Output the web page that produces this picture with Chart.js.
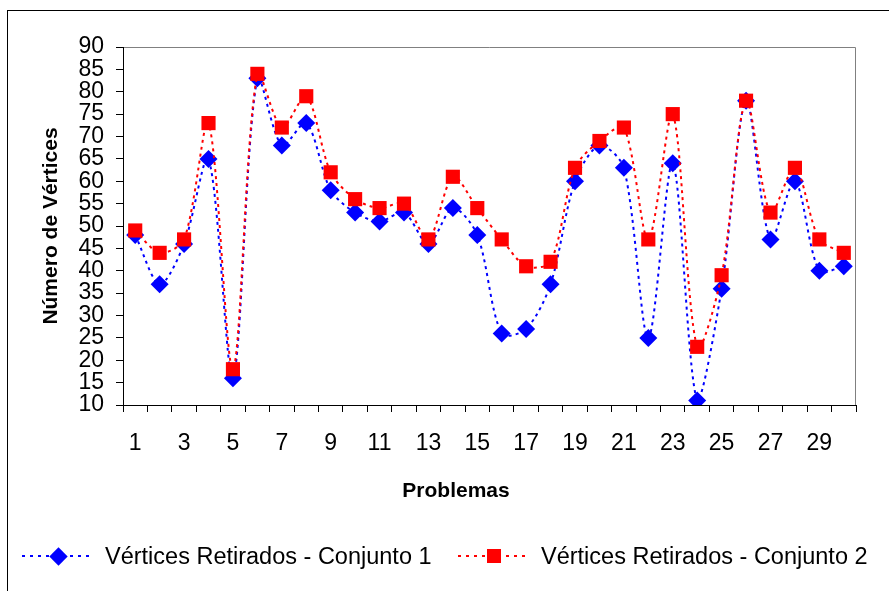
<!DOCTYPE html>
<html>
<head>
<meta charset="utf-8">
<script src="https://cdn.jsdelivr.net/npm/chart.js@4"></script>
<style>
  html, body { margin: 0; padding: 0; background: #fff; overflow: hidden; }
  #wrap { position: relative; width: 889px; height: 591px; }
  #frame {
    position: absolute; left: 7px; top: 10px; width: 900px; height: 600px;
    border-left: 1.5px solid #000; border-top: 1.5px solid #000;
  }
  canvas { position: absolute; left: 0; top: 0; }
  #xtitle {
    position: absolute; left: 356px; width: 200px; top: 478px; text-align: center;
    font: bold 21px "Liberation Sans", Arial, sans-serif; color: #000;
  }
  .legend-item {
    position: absolute; top: 542px; height: 28px; display: flex; align-items: center;
    font: 23.5px "Liberation Sans", Arial, sans-serif; color: #000; white-space: nowrap;
  }
  .legend-symbol { position: relative; width: 72px; height: 28px; margin-right: 11px; }
  .legend-line { position: absolute; left: 0; right: 0; top: 13px; height: 2px; }
  .legend-marker { position: absolute; left: 50%; top: 50%; }
</style>
</head>
<body>
<div id="wrap">
  <div id="frame"></div>
  <canvas id="chart" width="889" height="591"></canvas>
  <div id="xtitle">Problemas</div>
  <div id="legend"></div>
</div>
<script>
"use strict";

// ── Data ───────────────────────────────────────────────────
const problemas = Array.from({ length: 30 }, (_, i) => String(i + 1));
const conjunto1 = [48, 37, 46, 65, 16, 83, 68, 73, 58, 53, 51, 53, 46, 54, 48,
                   26, 27, 37, 60, 68, 63, 25, 64, 11, 36, 78, 47, 60, 40, 41];
const conjunto2 = [49, 44, 47, 73, 18, 84, 72, 79, 62, 56, 54, 55, 47, 61, 54,
                   47, 41, 42, 63, 69, 72, 47, 75, 23, 39, 78, 53, 63, 47, 44];
const seriesNames = ["Vértices Retirados - Conjunto 1", "Vértices Retirados - Conjunto 2"];
const yMin = 10, yMax = 90, yStep = 5;

const FONT = "'Liberation Sans', Arial, sans-serif";

// Gray box on the top/right of the plot area (axes draw black on left/bottom).
const plotBoxPlugin = {
  id: "plotBox",
  beforeDraw(chart) {
    const { ctx, chartArea: a } = chart;
    ctx.save();
    ctx.strokeStyle = "#808080";
    ctx.lineWidth = 1;
    ctx.beginPath();
    ctx.moveTo(a.left, a.top + 0.5);
    ctx.lineTo(a.right - 0.5, a.top + 0.5);
    ctx.lineTo(a.right - 0.5, a.bottom);
    ctx.stroke();
    ctx.restore();
  },
};

const chart = new Chart(document.getElementById("chart"), {
  type: "line",
  data: {
    labels: problemas,
    datasets: [
      {
        label: seriesNames[0],
        data: conjunto1,
        order: 1,
        borderColor: "#0000FF",
        backgroundColor: "#0000FF",
        borderWidth: 2,
        borderDash: [3, 4],
        tension: 0.3,
        pointStyle: "rectRot",
        pointRadius: 9,
        pointHoverRadius: 9,
        pointBorderWidth: 0,
      },
      {
        label: seriesNames[1],
        data: conjunto2,
        order: 0,
        borderColor: "#FF0000",
        backgroundColor: "#FF0000",
        borderWidth: 2,
        borderDash: [3, 4],
        tension: 0.3,
        pointStyle: "rect",
        pointRadius: 10,
        pointHoverRadius: 10,
        pointBorderWidth: 0,
      },
    ],
  },
  options: {
    responsive: false,
    animation: false,
    layout: { padding: { left: 20, right: 33, top: 47, bottom: 86 } },
    plugins: { legend: { display: false }, tooltip: { enabled: false } },
    scales: {
      x: {
        type: "category",
        offset: true,
        border: { color: "#000", width: 1 },
        grid: { offset: true, drawOnChartArea: false, color: "#000", tickLength: 7, tickWidth: 1 },
        ticks: {
          autoSkip: false, maxRotation: 0, padding: 18, color: "#000",
          font: { family: FONT, size: 23 },
          callback: (v, i) => (i % 2 === 0 ? problemas[i] : ""),
        },
        afterFit: (s) => { s.height = 100; },
      },
      y: {
        min: yMin, max: yMax,
        border: { color: "#000", width: 1 },
        grid: { drawOnChartArea: false, color: "#000", tickLength: 7, tickWidth: 1 },
        ticks: {
          stepSize: yStep, autoSkip: false, padding: 12, color: "#000",
          font: { family: FONT, size: 23 },
        },
        title: {
          display: true, text: "Número de Vértices", color: "#000",
          font: { family: FONT, size: 21, weight: "bold" },
          padding: { top: 19, bottom: 0 },
        },
        afterFit: (s) => { s.width = 103; },
      },
    },
  },
  plugins: [plotBoxPlugin],
});

// ── HTML legend: dotted line with the marker in the middle ─
function renderLegend() {
  const el = document.getElementById("legend");
  const lefts = [22, 458];
  el.innerHTML = chart.data.datasets.map((ds, i) => {
    const c = ds.borderColor;
    const marker = ds.pointStyle === "rectRot"
      ? `<span class="legend-marker" style="width:13px;height:13px;margin:-6.5px 0 0 -6.5px;background:${c};transform:rotate(45deg)"></span>`
      : `<span class="legend-marker" style="width:14px;height:14px;margin:-7px 0 0 -7px;background:${c}"></span>`;
    const line = `background:repeating-linear-gradient(to right, ${c} 0 3px, transparent 3px 8px)`;
    return `<div class="legend-item" style="left:${lefts[i]}px">
      <span class="legend-symbol"><span class="legend-line" style="${line}"></span>${marker}</span>
      <span>${ds.label}</span></div>`;
  }).join("");
}
renderLegend();
</script>
</body>
</html>
